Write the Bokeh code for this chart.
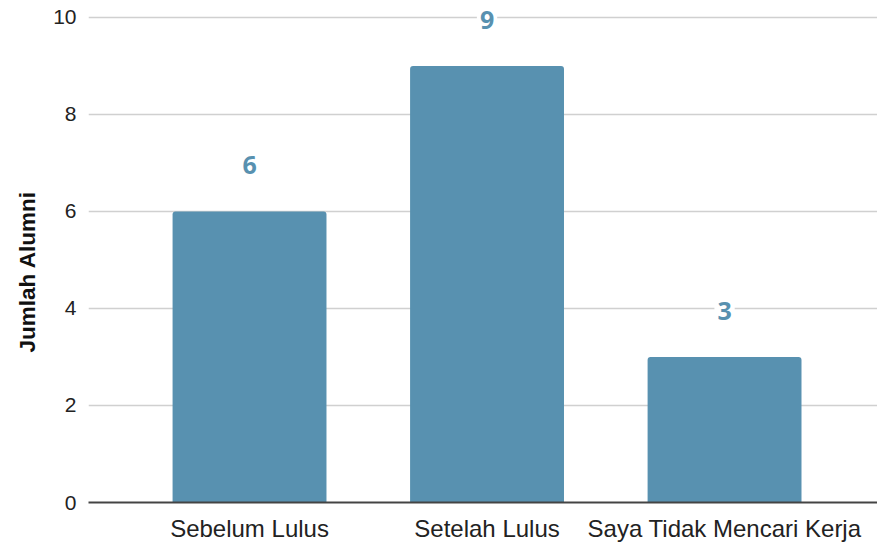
from bokeh.plotting import figure
from bokeh.models import Range1d, FixedTicker, ColumnDataSource, Title
from bokeh.core.properties import value
from bokeh.embed import file_html
from bokeh.resources import INLINE

categories = ["Sebelum Lulus", "Setelah Lulus", "Saya Tidak Mencari Kerja"]
counts = [6, 9, 3]
y_ticks = [0, 2, 4, 6, 8, 10]
y_title = "Jumlah Alumni"

BAR = "#5891b0"
idx = list(range(len(categories)))
source = ColumnDataSource(dict(x=idx, top=counts, label=[str(c) for c in counts]))

p = figure(width=877, height=544, output_backend="svg", toolbar_location=None,
           x_range=Range1d(-0.678, 2.644), y_range=Range1d(0, 10.35),
           min_border_left=88, min_border_right=0, min_border_top=0,
           min_border_bottom=40)
p.outline_line_color = None
p.background_fill_color = "white"
p.border_fill_color = "white"

p.vbar(x="x", top="top", width=0.648, source=source, fill_color=BAR,
       line_color=None, border_radius=(3, 3, 0, 0))

p.text(x="x", y="top", text="label", source=source, y_offset=-46,
       text_align="center", text_baseline="middle",
       text_font=value("Open Sans"), text_font_style="bold",
       text_font_size="25px", text_color=BAR,
       background_fill_color="white", padding=3)

# axes
p.xaxis.ticker = FixedTicker(ticks=idx)
p.xaxis.major_label_overrides = {i: c for i, c in zip(idx, categories)}
p.xaxis.major_label_text_font = "Liberation Sans"
p.xaxis.major_label_text_font_size = "24px"
p.xaxis.major_label_text_color = "#222222"
p.xaxis.major_label_standoff = 6
p.xaxis.major_tick_line_color = None
p.xaxis.minor_tick_line_color = None
p.xaxis.axis_line_color = "#444444"
p.xaxis.axis_line_width = 2

p.yaxis.ticker = FixedTicker(ticks=y_ticks)
p.yaxis.major_label_text_font = "Liberation Sans"
p.yaxis.major_label_text_font_size = "21px"
p.yaxis.major_label_text_color = "#222222"
p.yaxis.major_label_standoff = 6
p.yaxis.major_tick_line_color = None
p.yaxis.minor_tick_line_color = None
p.yaxis.axis_line_color = None

# y-axis title as a side title, shifted a little below the frame centre
ytitle = Title(text=y_title, align="left", offset=150, standoff=22,
               text_font="Liberation Sans", text_font_style="bold",
               text_font_size="22.5px", text_color="#111111")
p.add_layout(ytitle, "left")

p.xgrid.grid_line_color = None
p.ygrid.ticker = FixedTicker(ticks=y_ticks)
p.ygrid.grid_line_color = "#d0d0d0"
p.ygrid.grid_line_width = 1.5

open("out.html", "w").write(file_html(p, INLINE))
